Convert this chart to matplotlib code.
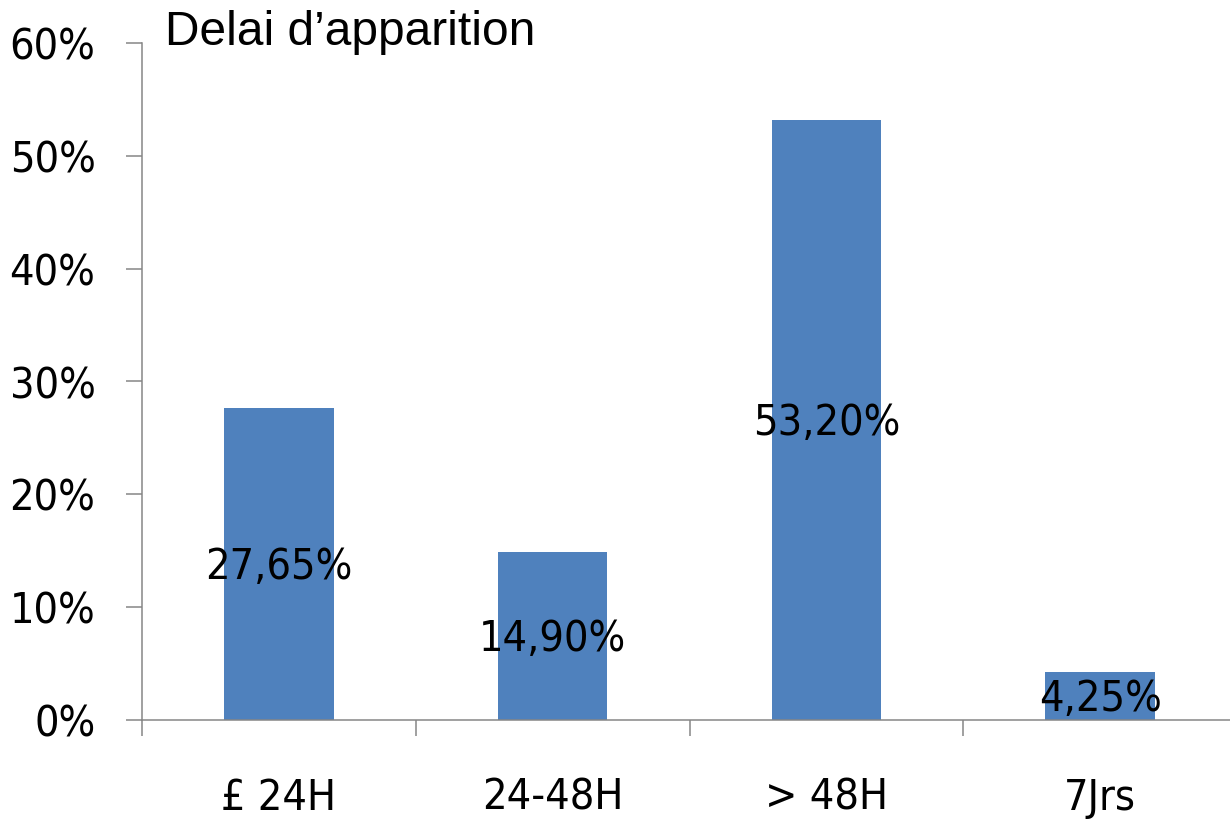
import matplotlib.pyplot as plt
from matplotlib.ticker import FuncFormatter

categories = ["£ 24H", "24-48H", "> 48H", "7Jrs"]
values = [27.65, 14.90, 53.20, 4.25]
value_labels = ["27,65%", "14,90%", "53,20%", "4,25%"]
y_ticks = [0, 10, 20, 30, 40, 50, 60]
title = "Delai d\u2019apparition"

bar_color = "#4F81BD"
axis_color = "#868686"
label_font = dict(family=["DejaVu Sans"], stretch="condensed", size=31)

fig = plt.figure(figsize=(12.3, 8.22), dpi=100)
ax = fig.add_axes([142 / 1230, 1 - 720 / 822, (1237 - 142) / 1230, (720 - 43) / 822])

x = list(range(len(categories)))
ax.bar(x, values, width=0.4, color=bar_color, zorder=2)

for xi, v, lab in zip(x, values, value_labels):
    ax.text(xi, v / 2 - 0.3, lab, ha="center", va="center",
            color="black", zorder=3, **label_font)

ax.set_xlim(-0.5, len(categories) - 0.5)
ax.set_ylim(0, 60)
ax.set_yticks(y_ticks)
ax.yaxis.set_major_formatter(FuncFormatter(lambda v, p: f"{v:.0f}%"))

# category separators as ticks on the boundaries, labels centred below bars
ax.set_xticks([i - 0.5 for i in range(len(categories))])
ax.set_xticklabels([])
ax.set_xticks(x, minor=True)
ax.set_xticklabels(categories, minor=True)
ax.tick_params(axis="x", which="major", length=11.5, width=1.1, color=axis_color, direction="out")
ax.tick_params(axis="x", which="minor", length=0, pad=41)
ax.tick_params(axis="y", length=11.5, width=1.1, color=axis_color, pad=22)
for lbl in ax.get_xticklabels(minor=True) + ax.get_yticklabels():
    lbl.set_fontfamily(label_font["family"])
    lbl.set_fontstretch(label_font["stretch"])
    lbl.set_fontsize(label_font["size"])

for side in ["top", "right"]:
    ax.spines[side].set_visible(False)
for side in ["left", "bottom"]:
    ax.spines[side].set_color(axis_color)
    ax.spines[side].set_linewidth(1.1)

fig.text(165 / 1230, 1 - 10 / 822, title, ha="left", va="top", fontsize=34.5,
         family=["Liberation Sans", "DejaVu Sans"], color="black")

fig.savefig("out.png", dpi=100, facecolor="white")
